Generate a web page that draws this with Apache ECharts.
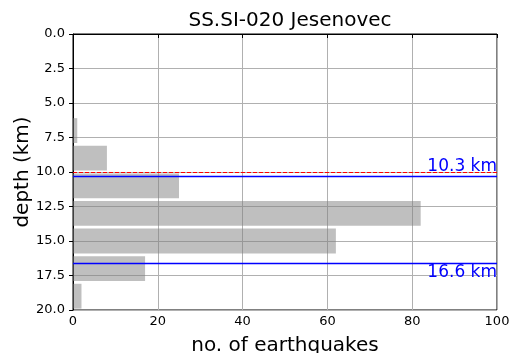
<!DOCTYPE html>
<html>
<head>
<meta charset="utf-8">
<script src="https://cdn.jsdelivr.net/npm/echarts@6/dist/echarts.min.js"></script>
<style>
html,body{margin:0;padding:0;background:#fff;}
#c{width:510px;height:353px;}
</style>
</head>
<body>
<div id="c"></div>
<script>
const titleText = 'SS.SI-020 Jesenovec';
const binEdges = [6, 8, 10, 12, 14, 16, 18, 20];
const counts = [1, 8, 25, 82, 62, 17, 2];
const refDepth = 10.0;
const depthLines = [10.3, 16.6];
const depthLabels = ['10.3 km', '16.6 km'];
const xTicks = [0, 20, 40, 60, 80, 100];
const yTicks = [0, 2.5, 5, 7.5, 10, 12.5, 15, 17.5, 20];

const FONT = 'DejaVu Sans';
const rwidth = 0.9;
const barData = counts.map((c, i) => {
  const w = binEdges[i + 1] - binEdges[i];
  const pad = w * (1 - rwidth) / 2;
  return [binEdges[i] + pad, binEdges[i + 1] - pad, c];
});

const chart = echarts.init(document.getElementById('c'), null, {renderer: 'canvas'});
chart.setOption({
  animation: false,
  backgroundColor: '#fff',
  title: {
    text: titleText, left: 285, top: 6, textAlign: 'center',
    textStyle: {fontFamily: FONT, fontSize: 20, fontWeight: 'normal', color: '#000'}
  },
  grid: {left: 73, right: 13, top: 34, bottom: 43, containLabel: false, outerBoundsMode: 'none',
    show: true, borderColor: '#000', borderWidth: 1, backgroundColor: 'transparent'},
  xAxis: {
    type: 'value', min: xTicks[0], max: xTicks[xTicks.length - 1], interval: 20,
    name: 'no. of earthquakes', nameLocation: 'middle', nameGap: 26, nameMoveOverlap: false,
    nameTextStyle: {fontFamily: FONT, fontSize: 20, color: '#000'},
    axisLine: {show: true, lineStyle: {color: '#000', width: 1}},
    axisTick: {show: true, length: 4, lineStyle: {color: '#000'}},
    axisLabel: {fontFamily: FONT, fontSize: 13, color: '#000', margin: 5},
    splitLine: {show: true, lineStyle: {color: '#b0b0b0', width: 1}}
  },
  yAxis: {
    type: 'value', inverse: true, min: yTicks[0], max: yTicks[yTicks.length - 1], interval: 2.5,
    name: 'depth (km)', nameLocation: 'middle', nameGap: 40, nameRotate: 90, nameMoveOverlap: false,
    nameTextStyle: {fontFamily: FONT, fontSize: 20, color: '#000'},
    axisLine: {show: true, lineStyle: {color: '#000', width: 1}},
    axisTick: {show: true, length: 4, lineStyle: {color: '#000'}},
    axisLabel: {fontFamily: FONT, fontSize: 13, color: '#000', margin: 8, formatter: v => v.toFixed(1)},
    splitLine: {show: true, lineStyle: {color: '#b0b0b0', width: 1}}
  },
  series: [{
    type: 'custom',
    data: barData,
    encode: {x: 2, y: [0, 1]},
    itemStyle: {color: 'rgba(128,128,128,0.5)'},
    renderItem: function (params, api) {
      const p0 = api.coord([0, api.value(0)]);
      const p1 = api.coord([api.value(2), api.value(1)]);
      return {
        type: 'rect',
        shape: {x: p0[0], y: p0[1], width: p1[0] - p0[0], height: p1[1] - p0[1]},
        style: api.style()
      };
    },
    markLine: {
      silent: true, symbol: 'none',
      data: [
        {yAxis: refDepth, lineStyle: {color: '#ff0000', type: [4, 2], width: 1}, label: {show: false}},
        {yAxis: depthLines[0], lineStyle: {color: '#0000ff', type: 'solid', width: 1.3},
          label: {show: true, formatter: depthLabels[0], position: 'insideEndTop', distance: [0, 1], color: '#0000ff', fontFamily: FONT, fontSize: 17}},
        {yAxis: depthLines[1], lineStyle: {color: '#0000ff', type: 'solid', width: 1.3},
          label: {show: true, formatter: depthLabels[1], position: 'insideEndBottom', distance: [0, 1], color: '#0000ff', fontFamily: FONT, fontSize: 17}}
      ]
    }
  }]
});
</script>
</body>
</html>
